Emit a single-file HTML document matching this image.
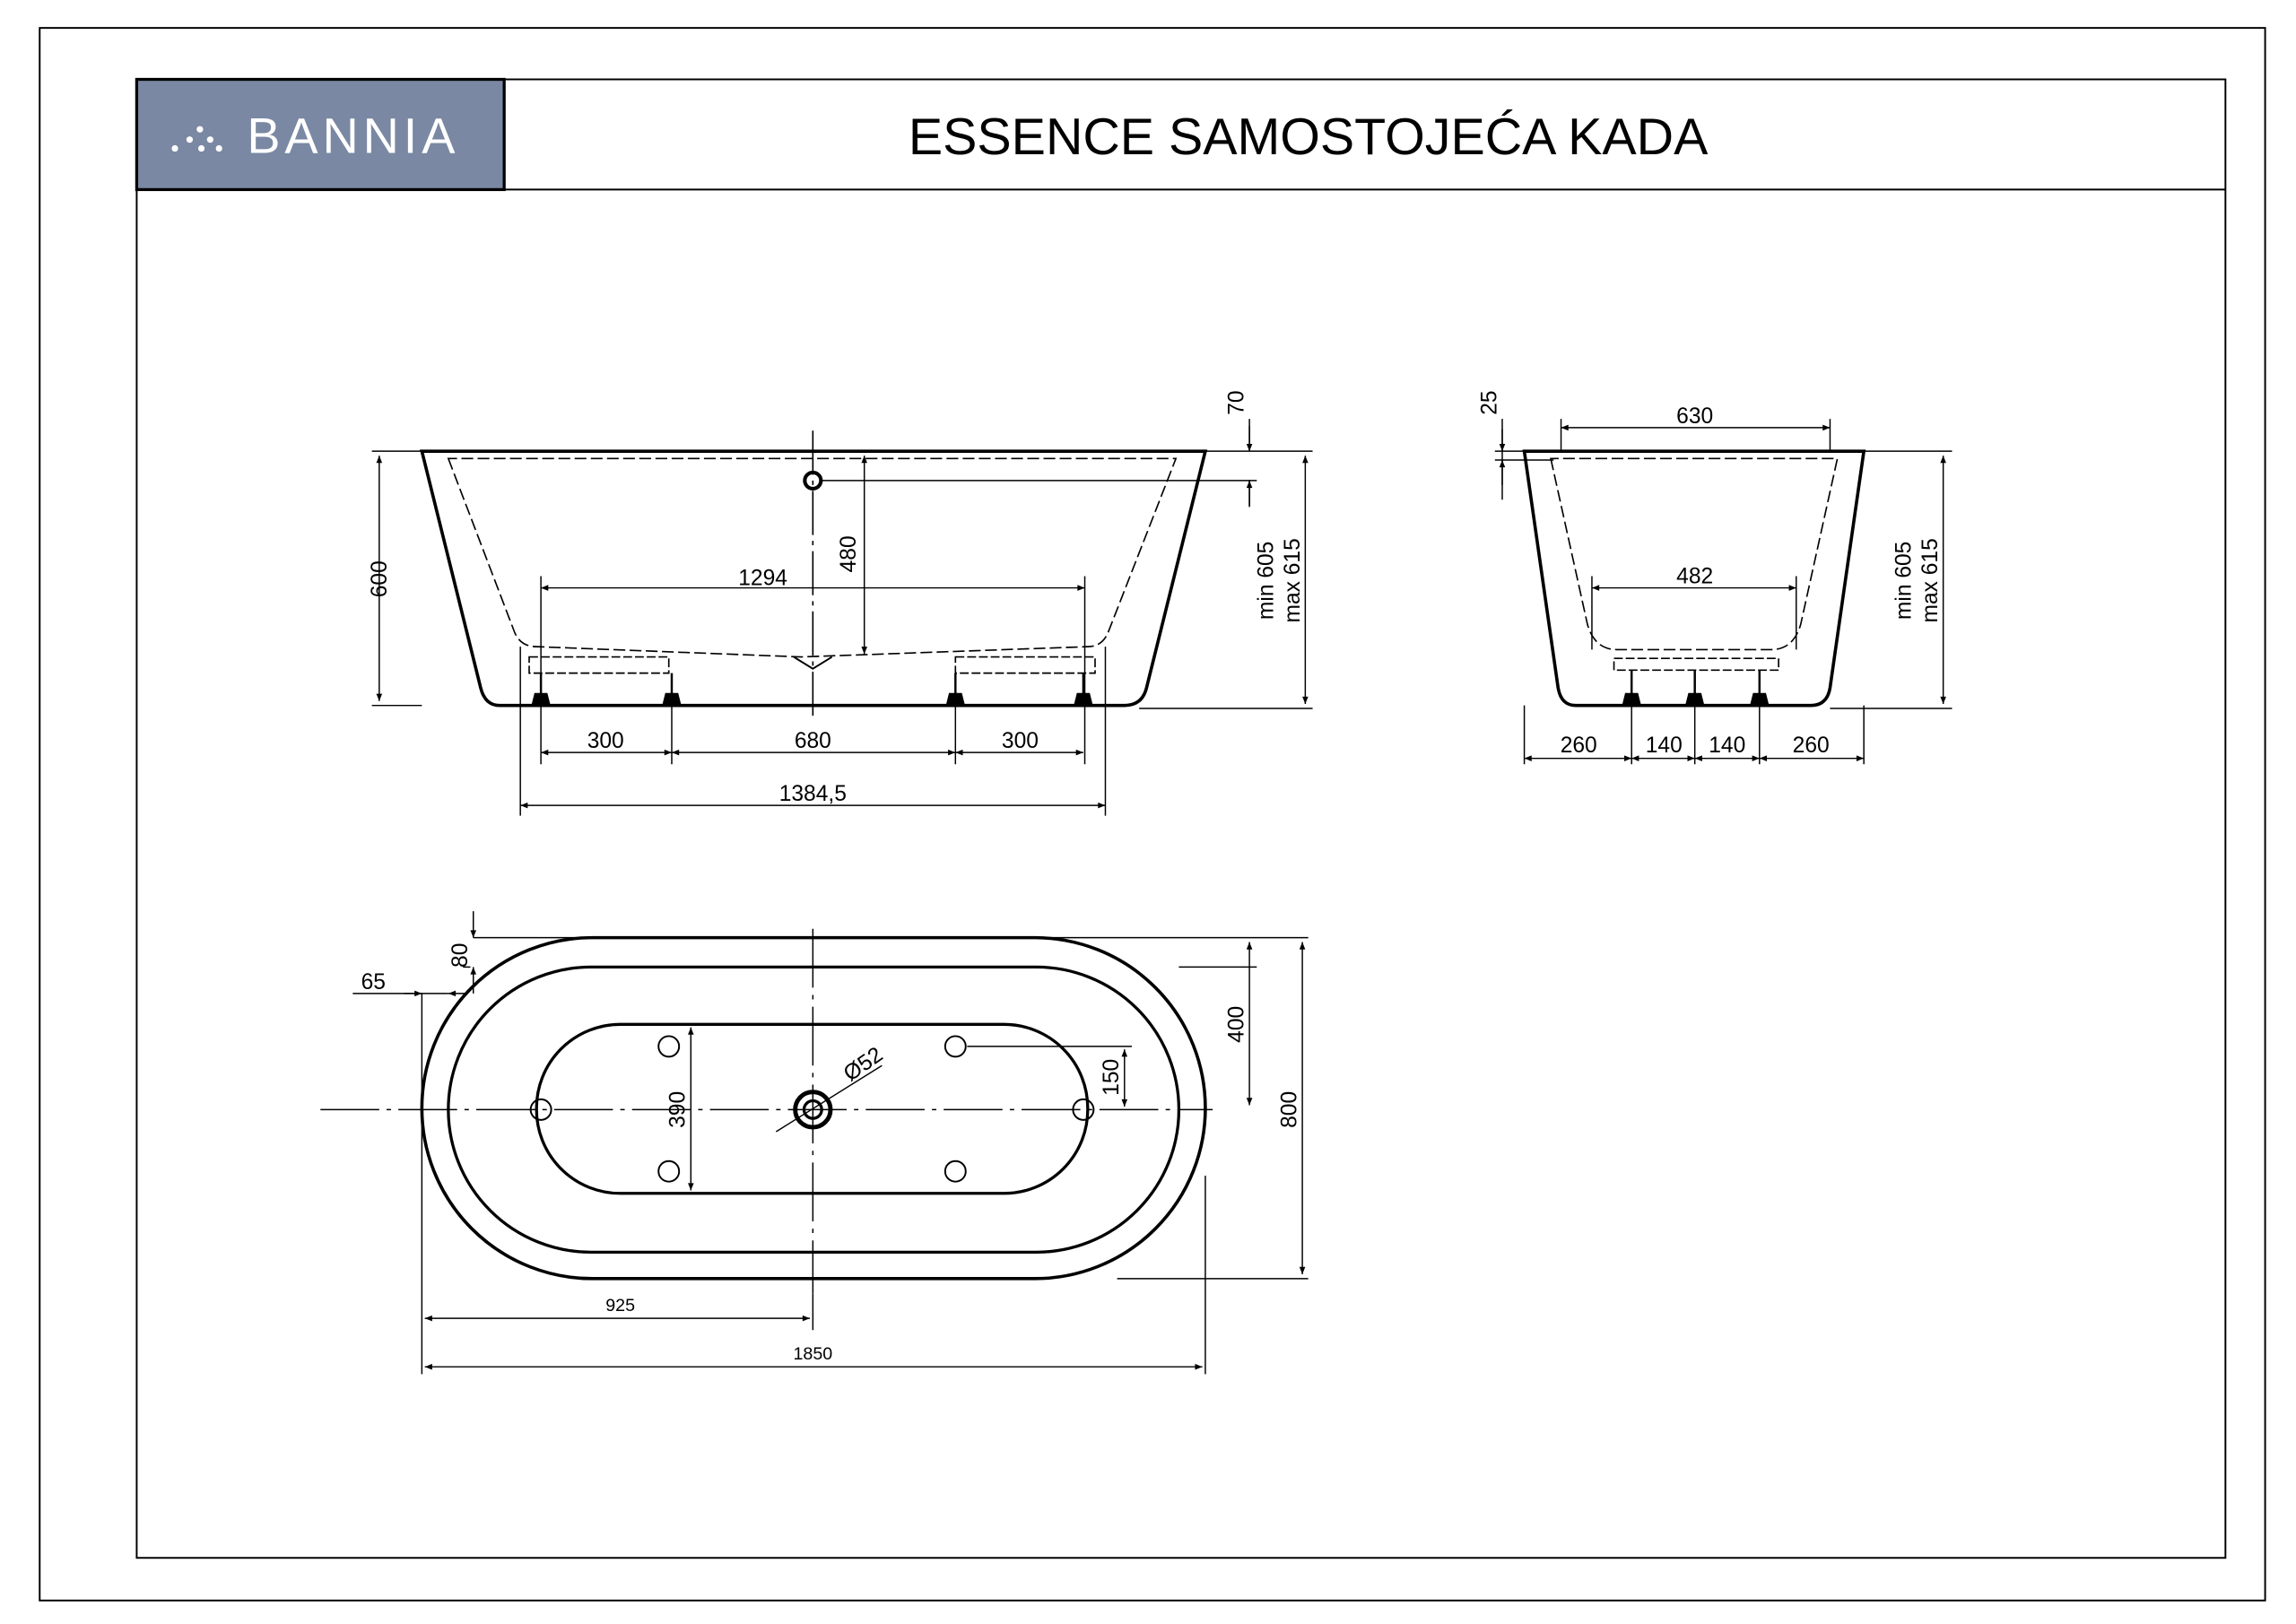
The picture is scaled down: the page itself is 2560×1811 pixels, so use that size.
<!DOCTYPE html>
<html><head><meta charset="utf-8"><style>
html,body{margin:0;padding:0;background:#fff}
svg{display:block}
text{font-family:"Liberation Sans",Arial,sans-serif;fill:#000}
</style></head><body>
<svg width="2560" height="1811" viewBox="0 0 1562 1105" preserveAspectRatio="none" xmlns="http://www.w3.org/2000/svg">
<defs>
<marker id="a" viewBox="0 0 10 10" refX="10" refY="5" markerWidth="8" markerHeight="5" orient="auto-start-reverse" markerUnits="userSpaceOnUse"><path d="M0,1 L10,5 L0,9z" fill="#000"/></marker>
</defs>
<rect x="27" y="19" width="1514" height="1070" fill="none" stroke="#000" stroke-width="1.2"/>
<rect x="93" y="54" width="1421" height="1006" fill="none" stroke="#000" stroke-width="1.2"/>
<line x1="93" y1="129" x2="1514" y2="129" stroke="#000" stroke-width="1.2"/>
<rect x="93" y="54" width="250" height="75" fill="#7a88a3" stroke="#000" stroke-width="2"/>
<g fill="#fff"><circle cx="119" cy="101" r="2.2"/><circle cx="129" cy="95" r="2.2"/><circle cx="136" cy="88" r="2.2"/><circle cx="143" cy="95" r="2.2"/><circle cx="137" cy="101" r="2.2"/><circle cx="149" cy="101" r="2.2"/></g>
<text x="168" y="104" font-size="34" style="fill:#fff" letter-spacing="3">BANNIA</text>
<text x="890" y="105" font-size="35" text-anchor="middle">ESSENCE SAMOSTOJEĆA KADA</text>

<g fill="none" stroke="#000">
<path d="M287,307 L820,307 L780,468 Q777,480 765,480 L340,480 Q330,480 327,468 Z" stroke-width="2.2"/>
<path d="M305,312 L350,430 Q354,440 365,440 L545,447 L740,440 Q750,440 754,430 L800,312 Z" stroke-width="1" stroke-dasharray="8,3"/>
<path d="M360,447 H455 V458 H360 Z M650,447 H745 V458 H650 Z" stroke-width="1" stroke-dasharray="6,2"/>
<path d="M540,447 L553,455 L566,447" stroke-width="1.2"/>
<g stroke-width="1.5"><path d="M368,458 V480 M457,458 V480 M650,458 V480 M737,458 V480"/></g>
<g fill="#000"><path d="M364,472h8l2,8h-12z M453,472h8l2,8h-12z M646,472h8l2,8h-12z M733,472h8l2,8h-12z"/></g>
<circle cx="553" cy="327" r="5.5" stroke-width="2.5"/>
<line x1="553" y1="293" x2="553" y2="490" stroke-width="1" stroke-dasharray="30,4,3,4"/>
<g stroke-width="0.9">
<path d="M253,307 H287 M253,480 H287 M820,307 H893 M559,327 H855 M775,482 H893"/>
<line x1="258" y1="310" x2="258" y2="477" marker-start="url(#a)" marker-end="url(#a)"/>
<line x1="368" y1="400" x2="738" y2="400" marker-start="url(#a)" marker-end="url(#a)"/>
<path d="M368,392 V520 M738,392 V520 M457,480 V520 M650,480 V520 M354,440 V555 M752,440 V555"/>
<line x1="588" y1="310" x2="588" y2="445" marker-start="url(#a)" marker-end="url(#a)"/>
<path d="M850,285 V307 M850,327 V345"/>
<line x1="850" y1="290" x2="850" y2="307" marker-end="url(#a)"/>
<line x1="850" y1="344" x2="850" y2="327" marker-end="url(#a)"/>
<line x1="888" y1="310" x2="888" y2="479" marker-start="url(#a)" marker-end="url(#a)"/>
<line x1="368" y1="512" x2="457" y2="512" marker-start="url(#a)" marker-end="url(#a)"/>
<line x1="457" y1="512" x2="650" y2="512" marker-start="url(#a)" marker-end="url(#a)"/>
<line x1="650" y1="512" x2="737" y2="512" marker-start="url(#a)" marker-end="url(#a)"/>
<line x1="354" y1="548" x2="752" y2="548" marker-start="url(#a)" marker-end="url(#a)"/>
</g>

<path d="M1037,307 L1268,307 L1245,468 Q1243,480 1232,480 L1072,480 Q1062,480 1060,468 Z" stroke-width="2.2"/>
<path d="M1055,312 L1080,425 Q1085,442 1100,442 L1205,442 Q1220,442 1225,425 L1250,312 Z" stroke-width="1" stroke-dasharray="8,3"/>
<path d="M1098,448 H1210 V456 H1098 Z" stroke-width="1" stroke-dasharray="6,2"/>
<g stroke-width="1.5"><path d="M1110,456 V480 M1153,456 V480 M1197,456 V480"/></g>
<g fill="#000"><path d="M1106,472h8l2,8h-12z M1149,472h8l2,8h-12z M1193,472h8l2,8h-12z"/></g>
<g stroke-width="0.9">
<path d="M1062,285 V307 M1245,285 V307 M1017,307 H1037 M1017,313 H1057 M1268,307 H1328 M1245,482 H1328 M1083,392 V442 M1222,392 V442"/>
<line x1="1062" y1="291" x2="1245" y2="291" marker-start="url(#a)" marker-end="url(#a)"/>
<line x1="1083" y1="400" x2="1222" y2="400" marker-start="url(#a)" marker-end="url(#a)"/>
<path d="M1022,285 V340"/>
<line x1="1022" y1="292" x2="1022" y2="307" marker-end="url(#a)"/>
<line x1="1022" y1="330" x2="1022" y2="313" marker-end="url(#a)"/>
<line x1="1322" y1="310" x2="1322" y2="479" marker-start="url(#a)" marker-end="url(#a)"/>
<path d="M1037,480 V520 M1110,480 V520 M1153,480 V520 M1197,480 V520 M1268,480 V520"/>
<line x1="1037" y1="516" x2="1110" y2="516" marker-start="url(#a)" marker-end="url(#a)"/>
<line x1="1110" y1="516" x2="1153" y2="516" marker-start="url(#a)" marker-end="url(#a)"/>
<line x1="1153" y1="516" x2="1197" y2="516" marker-start="url(#a)" marker-end="url(#a)"/>
<line x1="1197" y1="516" x2="1268" y2="516" marker-start="url(#a)" marker-end="url(#a)"/>
</g>

<rect x="287" y="638" width="533" height="232" rx="116" ry="116" stroke-width="2.2"/>
<rect x="305" y="658" width="497" height="194" rx="97" ry="97" stroke-width="2"/>
<rect x="365" y="697" width="375" height="115" rx="57" ry="57" stroke-width="2"/>
<line x1="218" y1="755" x2="825" y2="755" stroke-width="0.9" stroke-dasharray="40,5,3,5"/>
<line x1="553" y1="632" x2="553" y2="880" stroke-width="0.9" stroke-dasharray="40,5,3,5"/>
<circle cx="553" cy="755" r="12" stroke-width="3"/><circle cx="553" cy="755" r="6" stroke-width="2"/>
<g stroke-width="1.2"><circle cx="455" cy="712" r="7"/><circle cx="455" cy="797" r="7"/><circle cx="650" cy="712" r="7"/><circle cx="650" cy="797" r="7"/><circle cx="368" cy="755" r="7"/><circle cx="737" cy="755" r="7"/></g>
<g stroke-width="0.9">
<line x1="528" y1="770" x2="600" y2="725"/>
<path d="M322,638 H890 M315,658 H320 M760,870 H890 M802,658 H855 M658,712 H770 M287,676 V935 M820,800 V935 M553,880 V905 M455,697 H475 M455,812 H475"/>
<line x1="322" y1="620" x2="322" y2="638" marker-end="url(#a)"/>
<line x1="322" y1="676" x2="322" y2="658" marker-end="url(#a)"/>
<path d="M240,676 H305"/>
<line x1="275" y1="676" x2="287" y2="676" marker-end="url(#a)"/>
<line x1="318" y1="676" x2="305" y2="676" marker-end="url(#a)"/>
<line x1="850" y1="641" x2="850" y2="752" marker-start="url(#a)" marker-end="url(#a)"/>
<line x1="886" y1="641" x2="886" y2="867" marker-start="url(#a)" marker-end="url(#a)"/>
<line x1="765" y1="714" x2="765" y2="753" marker-start="url(#a)" marker-end="url(#a)"/>
<line x1="470" y1="699" x2="470" y2="810" marker-start="url(#a)" marker-end="url(#a)"/>
<line x1="289" y1="897" x2="551" y2="897" marker-start="url(#a)" marker-end="url(#a)"/>
<line x1="289" y1="930" x2="818" y2="930" marker-start="url(#a)" marker-end="url(#a)"/>
</g>
</g>

<g font-size="15">
<text x="258" y="394" transform="rotate(-90 258 394)" text-anchor="middle" dy="5">600</text>
<text x="519" y="398" text-anchor="middle">1294</text>
<text x="582" y="377" transform="rotate(-90 582 377)" text-anchor="middle">480</text>
<text x="846" y="274" transform="rotate(-90 846 274)" text-anchor="middle">70</text>
<text x="866" y="395" transform="rotate(-90 866 395)" text-anchor="middle">min 605</text>
<text x="884" y="395" transform="rotate(-90 884 395)" text-anchor="middle">max 615</text>
<text x="412" y="509" text-anchor="middle">300</text>
<text x="553" y="509" text-anchor="middle">680</text>
<text x="694" y="509" text-anchor="middle">300</text>
<text x="553" y="545" text-anchor="middle">1384,5</text>
<text x="1153" y="288" text-anchor="middle">630</text>
<text x="1153" y="397" text-anchor="middle">482</text>
<text x="1018" y="274" transform="rotate(-90 1018 274)" text-anchor="middle">25</text>
<text x="1300" y="395" transform="rotate(-90 1300 395)" text-anchor="middle">min 605</text>
<text x="1318" y="395" transform="rotate(-90 1318 395)" text-anchor="middle">max 615</text>
<text x="1074" y="512" text-anchor="middle">260</text>
<text x="1132" y="512" text-anchor="middle">140</text>
<text x="1175" y="512" text-anchor="middle">140</text>
<text x="1232" y="512" text-anchor="middle">260</text>
<text x="318" y="650" transform="rotate(-90 318 650)" text-anchor="middle">80</text>
<text x="254" y="673" text-anchor="middle">65</text>
<text x="846" y="697" transform="rotate(-90 846 697)" text-anchor="middle">400</text>
<text x="882" y="755" transform="rotate(-90 882 755)" text-anchor="middle">800</text>
<text x="761" y="733" transform="rotate(-90 761 733)" text-anchor="middle">150</text>
<text x="466" y="755" transform="rotate(-90 466 755)" text-anchor="middle">390</text>
<text x="590" y="728" transform="rotate(-35 590 728)" text-anchor="middle">Ø52</text>
</g>
<g font-size="12">
<text x="422" y="892" text-anchor="middle">925</text>
<text x="553" y="925" text-anchor="middle">1850</text>
</g>
</svg>
</body></html>
